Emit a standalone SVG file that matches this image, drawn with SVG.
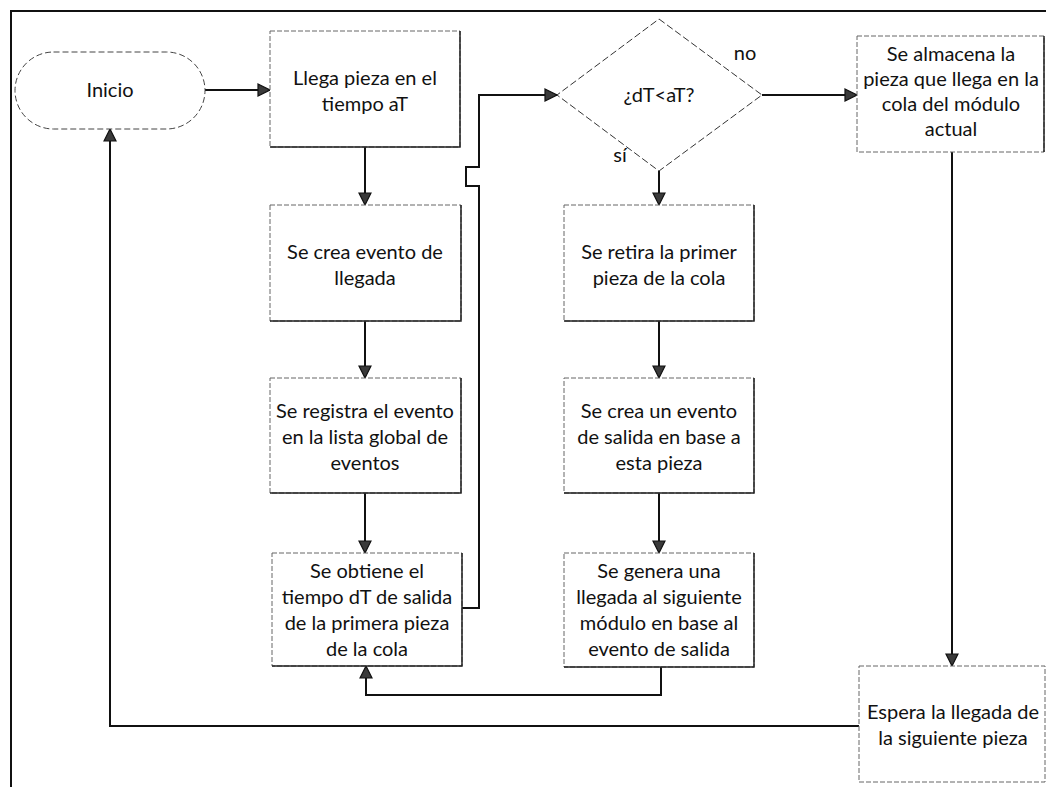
<svg xmlns="http://www.w3.org/2000/svg" width="1046" height="787" viewBox="0 0 1046 787">
<defs>
<style>
.bg{fill:#ffffff}
.frame{fill:none;stroke:#111;stroke-width:2}
.box{fill:#fff;stroke:#666;stroke-width:1;stroke-dasharray:5 2}
.edge{fill:none;stroke:#222;stroke-width:1.5}
.term{fill:#fff;stroke:#444;stroke-width:1;stroke-dasharray:6 3}
.dia{fill:#fff;stroke:#333;stroke-width:1;stroke-dasharray:7 3}
.conn{fill:none;stroke:#111;stroke-width:2;marker-end:url(#arr)}
text{font-family:Lato,"Open Sans","Liberation Sans",sans-serif;font-size:20px;fill:#111;text-anchor:middle}
</style>
<marker id="arr" markerWidth="14" markerHeight="14" viewBox="0 0 14 14" refX="13" refY="7" orient="auto" markerUnits="userSpaceOnUse">
<path d="M1,1 L13,7 L1,13 z" fill="#3a3a3a" stroke="#111" stroke-width="1.2"/>
</marker>
</defs>
<rect class="bg" x="0" y="0" width="1046" height="787"/>
<path class="frame" d="M11,787 V11 H1046"/>

<g id="connectors">
<path class="conn" d="M205,90 H270"/>
<path class="conn" d="M365,147 V205"/>
<path class="conn" d="M365,321 V378"/>
<path class="conn" d="M365,493 V553"/>
<path class="conn" d="M462,608 H479 V186 H466 V167 H479 V95 H557"/>
<path class="conn" d="M659,171 V205"/>
<path class="conn" d="M659,321 V378"/>
<path class="conn" d="M659,493 V553"/>
<path class="conn" d="M661,667 V695 H366 V666"/>
<path class="conn" d="M762,95 H857"/>
<path class="conn" d="M952,152 V666"/>
<path class="conn" d="M859,726 H110 V129"/>
</g>

<g id="inicio">
<rect class="term" x="15" y="52" width="190" height="77" rx="38.5"/>
<text x="110" y="97">Inicio</text>
</g>

<g id="llega">
<rect class="box" x="270" y="31" width="190" height="116"/>
<path class="edge" d="M460,31 V147 H270"/>
<text x="365" y="85">Llega pieza en el</text>
<text x="365" y="111">tiempo aT</text>
</g>

<g id="crea-llegada">
<rect class="box" x="270" y="205" width="191" height="116"/>
<path class="edge" d="M461,205 V321 H270"/>
<text x="365" y="259">Se crea evento de</text>
<text x="365" y="285">llegada</text>
</g>

<g id="registra">
<rect class="box" x="270" y="378" width="191" height="115"/>
<path class="edge" d="M461,378 V493 H270"/>
<text x="365" y="418">Se registra el evento</text>
<text x="365" y="444">en la lista global de</text>
<text x="365" y="470">eventos</text>
</g>

<g id="obtiene">
<rect class="box" x="272" y="553" width="190" height="113"/>
<path class="edge" d="M462,553 V666 H272"/>
<text x="367" y="578">Se obtiene el</text>
<text x="367" y="604">tiempo dT de salida</text>
<text x="367" y="630">de la primera pieza</text>
<text x="367" y="656">de la cola</text>
</g>

<g id="decision">
<polygon class="dia" points="659,19 762,95 659,171 557,95"/>
<text x="659" y="102">¿dT&lt;aT?</text>
<text x="745" y="60">no</text>
<text x="620" y="162">sí</text>
</g>

<g id="retira">
<rect class="box" x="564" y="205" width="190" height="116"/>
<path class="edge" d="M754,205 V321 H564"/>
<text x="659" y="259">Se retira la primer</text>
<text x="659" y="285">pieza de la cola</text>
</g>

<g id="crea-salida">
<rect class="box" x="564" y="378" width="190" height="115"/>
<path class="edge" d="M754,378 V493 H564"/>
<text x="659" y="418">Se crea un evento</text>
<text x="659" y="444">de salida en base a</text>
<text x="659" y="470">esta pieza</text>
</g>

<g id="genera">
<rect class="box" x="564" y="553" width="190" height="114"/>
<path class="edge" d="M754,553 V667 H564"/>
<text x="659" y="578">Se genera una</text>
<text x="659" y="604">llegada al siguiente</text>
<text x="659" y="630">módulo en base al</text>
<text x="659" y="656">evento de salida</text>
</g>

<g id="almacena">
<rect class="box" x="857" y="36" width="187" height="116"/>
<path class="edge" d="M1044,36 V152"/>
<text x="951" y="61">Se almacena la</text>
<text x="951" y="86">pieza que llega en la</text>
<text x="951" y="111">cola del módulo</text>
<text x="951" y="136">actual</text>
</g>

<g id="espera">
<rect class="box" x="859" y="666" width="186" height="116"/>
<text x="953" y="719">Espera la llegada de</text>
<text x="953" y="745">la siguiente pieza</text>
</g>
</svg>
